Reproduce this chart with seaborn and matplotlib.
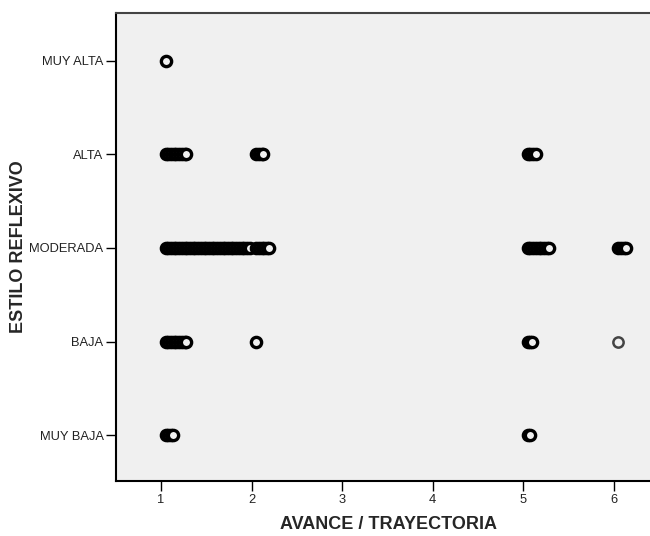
import matplotlib
matplotlib.use("Agg")
import matplotlib.pyplot as plt
import seaborn as sns
import pandas as pd

# Categories (top to bottom)
categorias = ["MUY ALTA", "ALTA", "MODERADA", "BAJA", "MUY BAJA"]

# AVANCE / TRAYECTORIA values per category
muy_alta = [1.05]
alta = [1.05, 1.08, 1.11, 1.14, 1.17, 1.20, 1.23, 1.26, 1.28,
        2.05, 2.08, 2.11, 2.13,
        5.05, 5.08, 5.11, 5.14]
moderada = [1.05, 1.08, 1.11, 1.14, 1.17, 1.20, 1.23, 1.26, 1.29, 1.32,
            1.35, 1.38, 1.41, 1.44, 1.47, 1.50, 1.53, 1.56, 1.59, 1.62,
            1.65, 1.68, 1.71, 1.74, 1.77, 1.80, 1.83, 1.86, 1.89, 1.92,
            1.95, 1.98,
            2.05, 2.08, 2.11, 2.14, 2.17, 2.19,
            5.05, 5.08, 5.11, 5.14, 5.17, 5.20, 5.23, 5.26, 5.29,
            6.05, 6.08, 6.11, 6.13]
baja = [1.05, 1.08, 1.11, 1.14, 1.17, 1.20, 1.23, 1.26, 1.28,
        2.05, 5.05, 5.08, 5.10]
baja_claro = [6.05]
muy_baja = [1.05, 1.08, 1.11, 1.13, 5.05, 5.07]

x_ticks = [1, 2, 3, 4, 5, 6]

rows = []
for cat, vals in zip(categorias, [muy_alta, alta, moderada, baja, muy_baja]):
    for v in vals:
        rows.append({"avance": v, "estilo": cat, "tono": "oscuro"})
for v in baja_claro:
    rows.append({"avance": v, "estilo": "BAJA", "tono": "claro"})
df = pd.DataFrame(rows)

sns.set_style("white")
plt.rcParams["font.family"] = ["Liberation Sans", "DejaVu Sans"]

fig = plt.figure(figsize=(6.5, 5.36), dpi=100)
ax = fig.add_axes([0.1785, 0.1026, 0.8215, 0.8731])
ax.set_facecolor("#f0f0f0")

sns.stripplot(data=df[df.tono == "oscuro"], x="avance", y="estilo", order=categorias,
              jitter=False, orient="h", color="#f0f0f0", edgecolor="black",
              linewidth=2.4, size=7.4, ax=ax)
sns.stripplot(data=df[df.tono == "claro"], x="avance", y="estilo", order=categorias,
              jitter=False, orient="h", color="#f0f0f0", edgecolor="#444444",
              linewidth=1.8, size=7.4, ax=ax)

ax.set_xlim(0.503, 6.40)
ax.set_ylim(4.49, -0.51)
ax.set_xticks(x_ticks)
ax.set_xticklabels([str(t) for t in x_ticks])

ax.set_xlabel("AVANCE / TRAYECTORIA", fontsize=13, fontweight="bold")
ax.set_ylabel("ESTILO REFLEXIVO", fontsize=13, fontweight="bold")
ax.xaxis.set_label_coords(0.51, -0.075)
ax.yaxis.set_label_coords(-0.166, 0.5)

ax.tick_params(axis="both", which="major", direction="out", length=7, width=1,
               color="black", labelsize=9.3, pad=2, left=True, bottom=True)
for lab in ax.get_xticklabels() + ax.get_yticklabels():
    lab.set_color("#222222")

for side in ["left", "bottom"]:
    ax.spines[side].set_color("black")
    ax.spines[side].set_linewidth(1.5)
ax.spines["top"].set_color("#444444")
ax.spines["top"].set_linewidth(1.5)
ax.spines["right"].set_visible(False)

fig.savefig("out.png", dpi=100)
